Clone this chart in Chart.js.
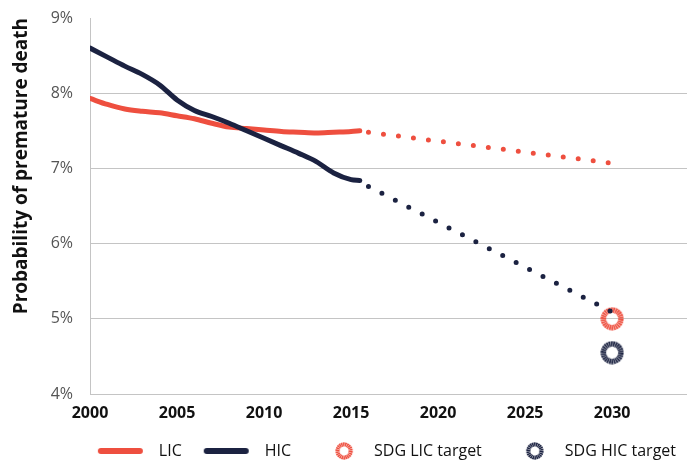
<!DOCTYPE html>
<html>
<head>
<meta charset="utf-8">
<script src="https://cdn.jsdelivr.net/npm/chart.js@4"></script>
<style>
  html, body { margin: 0; padding: 0; background: #fff; }
  #wrap { width: 692px; height: 462px; }
</style>
</head>
<body>
<div id="wrap"><canvas id="chart"></canvas></div>
<script>
// values (percent)
const years = [2000, 2001, 2002, 2003, 2004, 2005, 2006, 2007, 2008, 2009, 2010, 2011, 2012, 2013, 2014, 2015, 2015.5];
const licValues = [7.93, 7.85, 7.79, 7.76, 7.74, 7.70, 7.66, 7.60, 7.55, 7.53, 7.51, 7.49, 7.48, 7.47, 7.48, 7.49, 7.50];
const hicValues = [8.60, 8.48, 8.36, 8.25, 8.11, 7.91, 7.77, 7.69, 7.60, 7.50, 7.40, 7.30, 7.20, 7.09, 6.94, 6.85, 6.84];

const projYears = [2016, 2030];
const licProjection = [7.48, 7.07];
const hicProjection = [6.76, 5.09];

const targetYear = 2030;
const licTarget = 5.0;
const hicTarget = 4.55;

const yTicks = [4, 5, 6, 7, 8, 9];

const RED = "#ee4f3f";
const NAVY = "#1b2241";
const FONT = "'Open Sans', Lato, sans-serif";
const SWATCH_W = 59;

// dashed ring marker, drawn as small annular blocks
function ringImage(color, size, n) {
    let c = document.createElement("canvas");
    c.width = size;
    c.height = size;
    let g = c.getContext("2d");
    let cx = size / 2, cy = size / 2;
    let rOut = size * 0.48, rIn = size * 0.25;
    let step = (Math.PI * 2) / n;
    g.fillStyle = color;
    for (let i = 0; i < n; i++) {
        let a0 = i * step, a1 = a0 + step * 0.8;
        g.beginPath();
        g.arc(cx, cy, rOut, a0, a1);
        g.arc(cx, cy, rIn, a1, a0, true);
        g.closePath();
        g.fill();
    }
    return c;
}

// legend swatches, same width as the legend box
function legendRing(color) {
    let c = document.createElement("canvas");
    c.width = SWATCH_W;
    c.height = 18;
    c.getContext("2d").drawImage(ringImage(color, 18, 22), SWATCH_W - 22 - 9, 0);
    return c;
}

function legendLine(color) {
    let c = document.createElement("canvas");
    c.width = SWATCH_W;
    c.height = 8;
    let g = c.getContext("2d");
    g.strokeStyle = color;
    g.lineWidth = 6;
    g.lineCap = "round";
    g.beginPath();
    g.moveTo(9, 4);
    g.lineTo(SWATCH_W - 11, 4);
    g.stroke();
    return c;
}

function pairs(xs, ys) {
    return xs.map((x, i) => ({ x: x, y: ys[i] }));
}

let ctx = document.getElementById("chart").getContext("2d");
new Chart(ctx, {
    type: "line",
    data: {
        datasets: [
            {
                label: "LIC",
                data: pairs(years, licValues),
                borderColor: RED,
                backgroundColor: RED,
                borderWidth: 5,
                borderCapStyle: "round",
                cubicInterpolationMode: "monotone",
                pointRadius: 0,
                order: 2,
                legendStyle: legendLine(RED),
            },
            {
                label: "HIC",
                data: pairs(years, hicValues),
                borderColor: NAVY,
                backgroundColor: NAVY,
                borderWidth: 5,
                borderCapStyle: "round",
                cubicInterpolationMode: "monotone",
                pointRadius: 0,
                order: 1,
                legendStyle: legendLine(NAVY),
            },
            {
                label: "LIC projection",
                data: pairs(projYears, licProjection),
                borderColor: RED,
                borderWidth: 5,
                borderDash: [0, 15.1],
                borderCapStyle: "round",
                pointRadius: 0,
                order: 3,
                hideInLegend: true,
            },
            {
                label: "HIC projection",
                data: pairs(projYears, hicProjection),
                borderColor: NAVY,
                borderWidth: 5,
                borderDash: [0, 15.1],
                borderCapStyle: "round",
                pointRadius: 0,
                order: 3,
                hideInLegend: true,
            },
            {
                label: "SDG LIC target",
                data: [{ x: targetYear, y: licTarget }],
                showLine: false,
                pointStyle: ringImage(RED, 24, 26),
                borderColor: RED,
                backgroundColor: RED,
                order: 4,
                legendStyle: legendRing(RED),
            },
            {
                label: "SDG HIC target",
                data: [{ x: targetYear, y: hicTarget }],
                showLine: false,
                pointStyle: ringImage(NAVY, 24, 26),
                borderColor: NAVY,
                backgroundColor: NAVY,
                order: 4,
                legendStyle: legendRing(NAVY),
            },
        ],
    },
    options: {
        responsive: true,
        maintainAspectRatio: false,
        animation: false,
        layout: { padding: { top: 18, right: 0, left: 0, bottom: -7 } },
        scales: {
            x: {
                type: "linear",
                min: 2000,
                max: 2034.3,
                grid: { display: false, drawTicks: false },
                border: { display: false },
                ticks: {
                    stepSize: 5,
                    includeBounds: false,
                    padding: 10,
                    color: "#111",
                    font: { family: FONT, size: 16, weight: "bold" },
                    callback: (v) => String(v),
                },
                afterFit: (scale) => { scale.height = 33; },
            },
            y: {
                min: 4,
                max: 9,
                afterBuildTicks: (scale) => { scale.ticks = yTicks.map((v) => ({ value: v })); },
                grid: {
                    color: (c) => (c.tick && c.tick.value === 9 ? "rgba(0,0,0,0)" : "#c4c4c4"),
                    drawTicks: false,
                },
                border: { display: true, color: "#c4c4c4" },
                ticks: {
                    padding: 17,
                    color: "#555",
                    font: { family: FONT, size: 16 },
                    callback: (v) => v + "%",
                },
                title: {
                    display: true,
                    text: "Probability of premature death",
                    align: "end",
                    color: "#111",
                    font: { family: FONT, size: 19, weight: "bold" },
                    padding: { top: 10, bottom: 4 },
                },
                afterFit: (scale) => {
                    scale.width = 90;
                    scale.paddingTop = 0;
                    scale.paddingBottom = 0;
                },
            },
        },
        plugins: {
            tooltip: { enabled: false },
            legend: {
                position: "bottom",
                align: "end",
                labels: {
                    usePointStyle: true,
                    pointStyleWidth: SWATCH_W,
                    padding: 16,
                    color: "#111",
                    font: { family: FONT, size: 16 },
                    sort: (a, b) => a.datasetIndex - b.datasetIndex,
                    filter: (item, data) => !data.datasets[item.datasetIndex].hideInLegend,
                    generateLabels: (chart) => {
                        let items = Chart.defaults.plugins.legend.labels.generateLabels(chart);
                        items.forEach((it) => {
                            it.pointStyle = chart.data.datasets[it.datasetIndex].legendStyle;
                        });
                        return items;
                    },
                },
            },
        },
    },
});
</script>
</body>
</html>
